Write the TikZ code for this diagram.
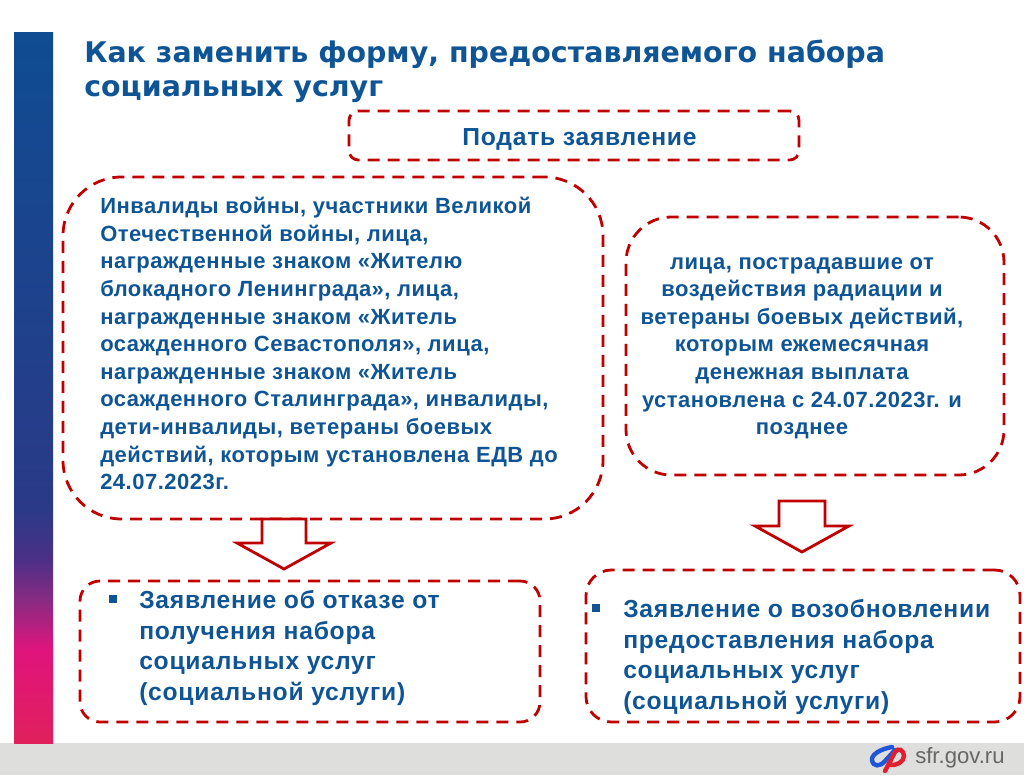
\documentclass[tikz,border=0pt]{standalone}
\usepackage{fontspec}
\setmainfont{Liberation Sans}
\newfontfamily\headfont{DejaVu Sans}
\newfontfamily\widefont[LetterSpace=2.3]{Liberation Sans}
\newfontfamily\widerfont[LetterSpace=3]{Liberation Sans}
\usetikzlibrary{positioning}
\definecolor{sfrblue}{HTML}{0F5596}
\definecolor{sfrred}{HTML}{C00000}
\definecolor{sfrgrey}{HTML}{DEDEDC}
\definecolor{logoblue}{HTML}{1F55D8}
\definecolor{logored}{HTML}{E0202E}
\definecolor{stripa}{HTML}{E0205C}
\definecolor{stripb}{HTML}{E0147C}
\definecolor{stripc}{HTML}{8A2A82}
\definecolor{stripd}{HTML}{4A3086}
\definecolor{stripe}{HTML}{2A3A88}
\definecolor{stripf}{HTML}{0F4C92}
\pgfdeclareverticalshading{sfrstrip}{100bp}{color(0bp)=(stripa); color(25bp)=(stripa); color(31.5bp)=(stripb); color(35bp)=(stripc); color(38bp)=(stripd); color(41.5bp)=(stripe); color(75bp)=(stripf); color(100bp)=(stripf)}
\tikzset{
  dashbox/.style={draw=sfrred, line width=2.1pt, dash pattern=on 9pt off 6pt},
  smalltext/.style={anchor=north west, inner sep=0pt, text=sfrblue, font=\widefont\bfseries\fontsize{16.5}{20.7}\selectfont},
  bigtext/.style={anchor=north west, inner sep=0pt, align=left, text=sfrblue, font=\widerfont\bfseries\fontsize{18.5}{23.1}\selectfont},
  hollowarrow/.style={draw=sfrred, line width=2.1pt, fill=white},
  bullet/.style={fill=sfrblue, minimum size=6pt, inner sep=0pt}
}
\begin{document}
\begin{tikzpicture}[x=0.75pt, y=-0.75pt]
  \useasboundingbox (0,0) rectangle (1024,775);
  \fill[sfrgrey] (0,743) rectangle (1024,775);
  \shade[shading=sfrstrip] (14,32) rectangle (53,743);
  % heading
  \node[anchor=north west, inner sep=0pt, align=left, text=sfrblue, font=\headfont\bfseries\fontsize{21.35}{25.5}\selectfont] (head) at (84,40) {Как заменить форму, предоставляемого набора\\социальных услуг};
  % boxes
  \node[dashbox, minimum width=337.5pt, minimum height=36.75pt, rounded corners=7pt] (apply) at (574,135.5) {};
  \node[bigtext, anchor=center] (applytext) at (579.5,139) {Подать заявление};
  \node[dashbox, minimum width=405pt, minimum height=256.5pt, rounded corners=44pt] (leftgroup) at (333,348) {};
  \node[smalltext, align=left] (lefttext) at (100,197) {Инвалиды войны, участники Великой\\
    Отечественной войны, лица,\\
    награжденные знаком «Жителю\\
    блокадного Ленинграда», лица,\\
    награжденные знаком «Житель\\
    осажденного Севастополя», лица,\\
    награжденные знаком «Житель\\
    осажденного Сталинграда», инвалиды,\\
    дети-инвалиды, ветераны боевых\\
    действий, которым установлена ЕДВ до\\
    24.07.2023г.};
  \node[dashbox, minimum width=283.5pt, minimum height=193.5pt, rounded corners=34pt] (rightgroup) at (815,346) {};
  \node[smalltext, anchor=north, align=center] (righttext) at (802,257) {лица, пострадавшие от\\
    воздействия радиации и\\
    ветераны боевых действий,\\
    которым ежемесячная\\
    денежная выплата\\
    установлена с 24.07.2023г. и\\
    позднее};
  % arrows
  \coordinate (lefttop) at (284,519);
  \coordinate (righttop) at (802,501);
  \draw[hollowarrow] (lefttop) +(-22,0) -- +(-22,24) -- +(-47,24) -- +(0,50) -- +(47,24) -- +(22,24) -- +(22,0) -- cycle;
  \draw[hollowarrow] (righttop) +(-23,0) -- +(-23,25) -- +(-47,25) -- +(0,51) -- +(47,25) -- +(23,25) -- +(23,0) -- cycle;
  % results
  \node[dashbox, minimum width=345pt, minimum height=105.75pt, rounded corners=15pt] (refuse) at (310,651.5) {};
  \node[bigtext] (refusetext) at (139,590) {Заявление об отказе от\\
    получения набора\\
    социальных услуг\\
    (социальной услуги)};
  \node[dashbox, minimum width=325.5pt, minimum height=114pt, rounded corners=19pt] (resume) at (803,646) {};
  \node[bigtext] (resumetext) at (623,599) {Заявление о возобновлении\\
    предоставления набора\\
    социальных услуг\\
    (социальной услуги)};
  \node[bullet] (dotleft) at (112.5,598.5) {};
  \node[bullet] (dotright) at (596,607.5) {};
  % footer
  \node[anchor=west, inner sep=0pt, text=black!60, font=\fontsize{16.6}{18}\selectfont] (site) at (915,758) {sfr.gov.ru};
  \draw[logoblue, line width=3.3pt, line cap=round] (892,747) .. controls (880,749) and (871,755) .. (872,760) .. controls (873,767) and (880,767) .. (885,761) -- (895,750);
  \draw[logored, line width=3.3pt, line cap=round] (885,771) -- (895,752) .. controls (898,747) and (904,750) .. (904,756) .. controls (904,762) and (896,766) .. (889,765);
\end{tikzpicture}
\end{document}
